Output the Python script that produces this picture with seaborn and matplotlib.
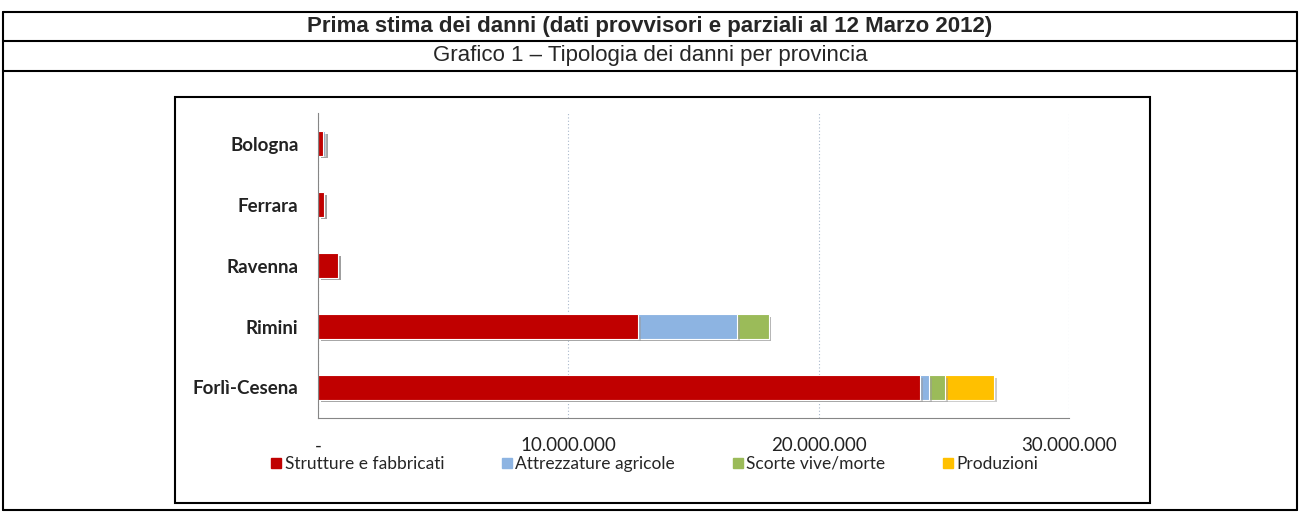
import matplotlib
matplotlib.use("Agg")
import matplotlib.pyplot as plt
import matplotlib.patheffects as pe
from matplotlib.lines import Line2D
from matplotlib.patches import Rectangle
import pandas as pd
import seaborn as sns

# values in euro
province = ["Bologna", "Ferrara", "Ravenna", "Rimini", "Forlì-Cesena"]
strutture = [200000, 250000, 800000, 12800000, 24050000]
attrezzature = [100000, 0, 0, 3950000, 350000]
scorte = [0, 0, 0, 1250000, 650000]
produzioni = [0, 0, 0, 0, 1950000]

categorie = ["Strutture e fabbricati", "Attrezzature agricole", "Scorte vive/morte", "Produzioni"]
colori = ["#C00000", "#8DB4E2", "#9BBB59", "#FFC000"]
x_ticks = [0, 10000000, 20000000, 30000000]
x_labels = ["-", "10.000.000", "20.000.000", "30.000.000"]

df = pd.DataFrame({"Provincia": province,
                   categorie[0]: strutture, categorie[1]: attrezzature,
                   categorie[2]: scorte, categorie[3]: produzioni})
# cumulative totals -> overlay from the longest down to the first segment
cum = df[categorie].cumsum(axis=1)

sns.set_style("white")
plt.rcParams["font.family"] = ["Lato", "DejaVu Sans"]

fig = plt.figure(figsize=(13, 5.17), dpi=100)
ax = fig.add_axes([0.2446, 0.1915, 0.5777, 0.5899])

shadow = [pe.SimplePatchShadow(offset=(2, -2), shadow_rgbFace="#9a9a9a", alpha=0.5), pe.Normal()]
for cat, col in reversed(list(zip(categorie, colori))):
    sns.barplot(x=cum[cat], y=df["Provincia"], order=province, color=col, saturation=1,
                width=0.4, edgecolor="white", linewidth=0.8, ax=ax, orient="h")
for p in ax.patches:
    p.set_path_effects(shadow)

ax.set_xlim(0, 30000000)
ax.set_ylim(4.5, -0.5)
ax.set_xticks(x_ticks)
ax.set_xticklabels(x_labels, fontsize=13.5, color="#222222")
ax.set_yticks(range(len(province)))
ax.set_yticklabels(province, fontsize=13.5, fontweight="bold", color="#222222")
ax.set_yticks([i - 0.5 for i in range(len(province) + 1)], minor=True)
ax.tick_params(axis="y", which="major", length=0, pad=14)
ax.tick_params(axis="y", which="minor", length=6, color="#868686", width=0.8)
ax.tick_params(axis="x", length=5, color="#868686", width=0.8, pad=9)
ax.set_xlabel("")
ax.set_ylabel("")
ax.xaxis.grid(True, linestyle=(0, (1, 2)), color="#a9b8cc", linewidth=0.8)
ax.set_axisbelow(True)
for s in ["top", "right"]:
    ax.spines[s].set_visible(False)
for s in ["left", "bottom"]:
    ax.spines[s].set_color("#868686")
    ax.spines[s].set_linewidth(0.8)

handles = [Line2D([], [], marker="s", linestyle="", markersize=7, color=c) for c in colori]
fig.legend(handles, categorie, loc="center", bbox_to_anchor=(0.503, 0.103), ncol=4,
           frameon=False, fontsize=12.5, handletextpad=0.1, columnspacing=3.2, handlelength=0.8)

# table frame around the chart
def hline(y, x0=0.002, x1=0.998, lw=1.5):
    fig.add_artist(Line2D([x0, x1], [y, y], color="black", lw=lw, transform=fig.transFigure))

hline(1 - 12 / 517)
hline(1 - 41 / 517)
hline(1 - 71 / 517)
hline(1 - 510 / 517)
for x in [0.002, 0.998]:
    fig.add_artist(Line2D([x, x], [1 - 12 / 517, 1 - 510 / 517], color="black", lw=1.5,
                          transform=fig.transFigure))
fig.add_artist(Rectangle((175 / 1300, 1 - 503 / 517), (1150 - 175) / 1300, (503 - 97) / 517,
                         fill=False, edgecolor="black", lw=1.5, transform=fig.transFigure))

fig.text(0.5, 1 - 27 / 517, "Prima stima dei danni (dati provvisori e parziali al 12 Marzo 2012)",
         ha="center", va="center", fontsize=16, fontweight="bold", family="Liberation Sans")
fig.text(0.5, 1 - 56 / 517, "Grafico 1 – Tipologia dei danni per provincia",
         ha="center", va="center", fontsize=16, family="Liberation Sans")

fig.savefig("out.png", dpi=100)
